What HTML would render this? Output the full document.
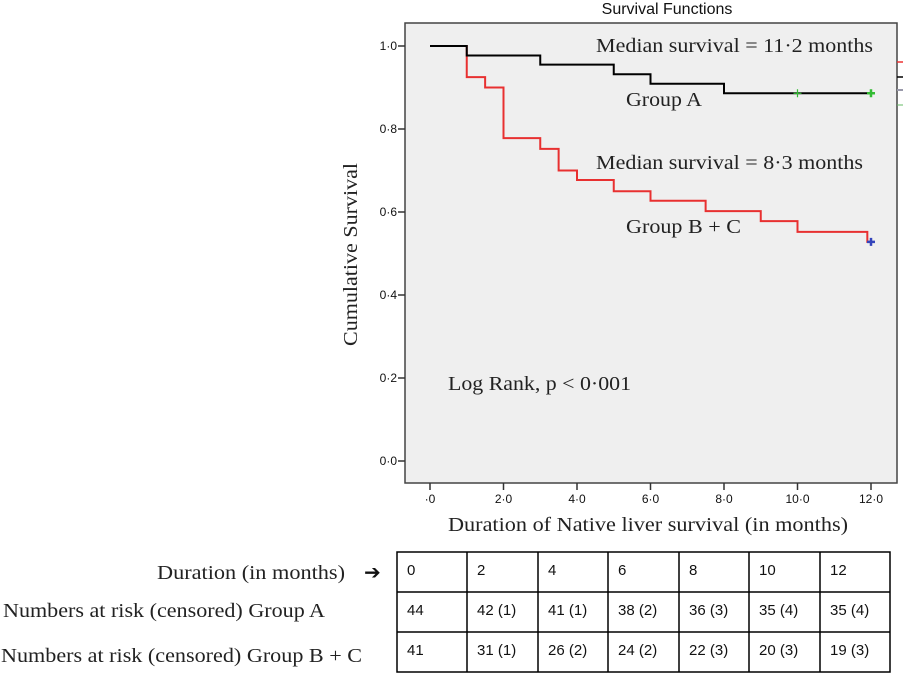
<!DOCTYPE html>
<html><head><meta charset="utf-8"><style>
body{margin:0;background:#fff;width:903px;height:674px;overflow:hidden;position:relative}
svg{position:absolute;left:0;top:0}
.s{font-family:"Liberation Serif",serif;fill:#222}
.a{font-family:"Liberation Sans",sans-serif;fill:#111}
</style></head><body>
<svg width="903" height="674">
<text class="a" x="667" y="14" font-size="16" text-anchor="middle">Survival Functions</text>
<rect x="405" y="23" width="492" height="460" fill="#efefef" stroke="#444" stroke-width="1.5"/>
<g id="axes"></g>
<g id="series"></g>
<line x1="897" y1="62" x2="903" y2="62" stroke="#e33" stroke-width="1.5"/>
<line x1="897" y1="77" x2="903" y2="77" stroke="#000" stroke-width="1.5"/>
<line x1="897" y1="90" x2="903" y2="90" stroke="#99a" stroke-width="2"/>
<line x1="897" y1="105" x2="903" y2="105" stroke="#6b6" stroke-width="1"/>
<text class="s" x="596" y="52" font-size="20" textLength="277" lengthAdjust="spacingAndGlyphs">Median survival = 11·2 months</text>
<text class="s" x="626" y="106" font-size="20" textLength="76" lengthAdjust="spacingAndGlyphs">Group A</text>
<text class="s" x="596" y="169" font-size="20" textLength="267" lengthAdjust="spacingAndGlyphs">Median survival = 8·3 months</text>
<text class="s" x="626" y="233" font-size="20" textLength="115" lengthAdjust="spacingAndGlyphs">Group B + C</text>
<text class="s" x="448" y="390" font-size="20" textLength="183" lengthAdjust="spacingAndGlyphs">Log Rank, p &lt; 0·001</text>
<text class="s" x="448" y="531" font-size="20" textLength="400" lengthAdjust="spacingAndGlyphs">Duration of Native liver survival (in months)</text>
<text class="s" transform="translate(357,346) rotate(-90)" font-size="20" textLength="183" lengthAdjust="spacingAndGlyphs">Cumulative Survival</text>
<g id="table"></g>
</svg>
<script>
const xTicks=[0,2,4,6,8,10,12];
const xTickLabels=["·0","2·0","4·0","6·0","8·0","10·0","12·0"];
const yTicks=[0,0.2,0.4,0.6,0.8,1.0];
const yTickLabels=["0·0","0·2","0·4","0·6","0·8","1·0"];
const groupATimes=[0,1,3,5,6,8,12];
const groupASurv=[1.0,0.977,0.955,0.932,0.909,0.886,0.886];
const groupBCTimes=[0,1,1.5,2,3,3.5,4,5,6,7.5,9,10,11.9,12];
const groupBCSurv=[1.0,0.925,0.90,0.778,0.752,0.70,0.677,0.65,0.627,0.602,0.578,0.552,0.528,0.528];
const censorA=[10,12];
const censorBC=[12];
const tableDur=["0","2","4","6","8","10","12"];
const tableA=["44","42 (1)","41 (1)","38 (2)","36 (3)","35 (4)","35 (4)"];
const tableBC=["41","31 (1)","26 (2)","24 (2)","22 (3)","20 (3)","19 (3)"];
const NS="http://www.w3.org/2000/svg";
const X=t=>430+t*36.75, Y=v=>461-v*415;
function mk(tag,attrs,parent,txt){const e=document.createElementNS(NS,tag);for(const k in attrs)e.setAttribute(k,attrs[k]);if(txt!=null)e.textContent=txt;parent.appendChild(e);return e;}
const ax=document.getElementById('axes');
xTicks.forEach((t,i)=>{mk('line',{x1:X(t),x2:X(t),y1:483,y2:490,stroke:'#333','stroke-width':1.5},ax);
 const e=mk('text',{x:X(t),y:503,'font-size':12,'text-anchor':'middle',class:'a'},ax,xTickLabels[i]);
 
 });
yTicks.forEach((v,i)=>{mk('line',{x1:398,x2:405,y1:Y(v),y2:Y(v),stroke:'#333','stroke-width':1.5},ax);
 const e=mk('text',{x:397,y:Y(v)+4,'font-size':12,'text-anchor':'end',class:'a'},ax,yTickLabels[i]);
 
 });
function step(ts,vs){let d=`M${X(ts[0])},${Y(vs[0])}`;for(let i=1;i<ts.length;i++){d+=`H${X(ts[i])}V${Y(vs[i])}`;}return d;}
const sg=document.getElementById('series');
const pb=mk('path',{d:step(groupBCTimes,groupBCSurv),fill:'none',stroke:'#e83030','stroke-width':2},sg);


const pa=mk('path',{d:step(groupATimes,groupASurv),fill:'none',stroke:'#000','stroke-width':2},sg);


censorA.forEach(t=>{const y=Y(groupASurv[groupASurv.length-1]);const g=mk('path',{d:`M${X(t)-4},${y}H${X(t)+4}M${X(t)},${y-4}V${y+4}`,stroke:'#3b3',"stroke-width":t==12?2.5:1.2},sg);
 
 });
censorBC.forEach(t=>{const y=Y(groupBCSurv[groupBCSurv.length-1]);const g=mk('path',{d:`M${X(t)-4},${y}H${X(t)+4}M${X(t)},${y-4}V${y+4}`,stroke:'#34b',"stroke-width":2.5},sg);
 
 });
const tb=document.getElementById('table');
const colX=[397,467,538,608,679,749,820,890], rowY=[552,592,632,672];
mk('rect',{x:397,y:552,width:493,height:120,fill:'none',stroke:'#000','stroke-width':1.5},tb);
colX.slice(1,-1).forEach(x=>mk('line',{x1:x,x2:x,y1:552,y2:672,stroke:'#000','stroke-width':1.5},tb));
rowY.slice(1,-1).forEach(y=>mk('line',{x1:397,x2:890,y1:y,y2:y,stroke:'#000','stroke-width':1.5},tb));
[tableDur,tableA,tableBC].forEach((row,r)=>row.forEach((v,c)=>{const e=mk('text',{x:colX[c]+10,y:rowY[r]+23,'font-size':15,class:'a'},tb,v);
 
 }));
const rl=[["Duration (in months)",157,579,188],["Numbers at risk (censored) Group A",3,617,322],["Numbers at risk (censored) Group B + C",1,662,361]];
rl.forEach(([t,x,y,w])=>{const e=mk('text',{x:x,y:y,'font-size':20,textLength:w,lengthAdjust:'spacingAndGlyphs',class:'s'},tb,t);
 
 });
const ar=mk('text',{x:364,y:579,'font-size':20,class:'a'},tb,"➔");


</script>
</body></html>
